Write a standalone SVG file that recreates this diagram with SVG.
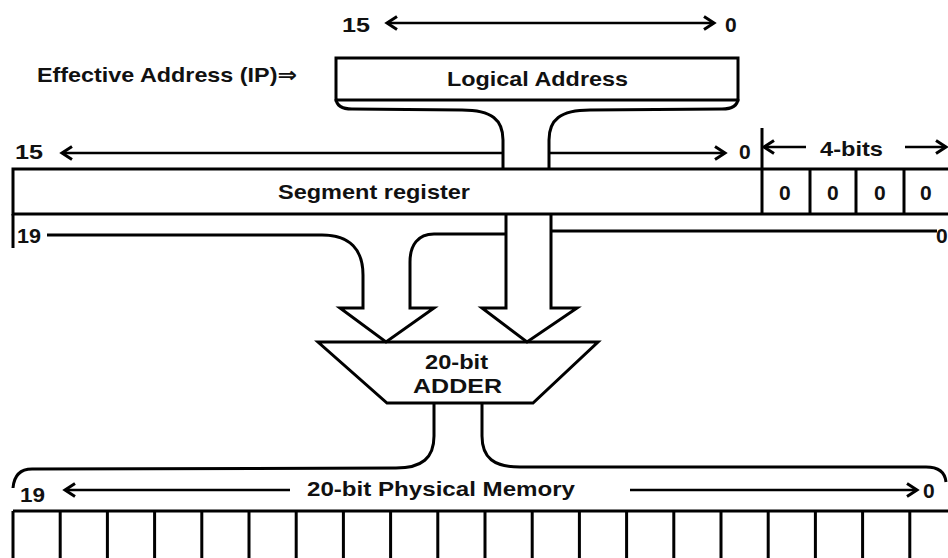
<svg xmlns="http://www.w3.org/2000/svg" width="948" height="558" viewBox="0 0 948 558">
<defs>
<marker id="ah" markerUnits="userSpaceOnUse" markerWidth="16" markerHeight="16" viewBox="0 0 16 16" refX="13" refY="8" orient="auto-start-reverse">
<path d="M3,1.5 L13,8 L3,14.5" fill="none" stroke="#000" stroke-width="3" stroke-linejoin="miter"/>
</marker>
<style>
text{font-family:"Liberation Sans",Arial,"DejaVu Sans",sans-serif;font-weight:bold;font-size:21px;fill:#111;}
.b{fill:#fff;stroke:#000;stroke-width:3;}
.l{fill:none;stroke:#000;stroke-width:3;}
.a{fill:none;stroke:#000;stroke-width:2.6;}
</style>
</defs>
<rect width="948" height="558" fill="#fff"/>

<g id="logical-address">
<text x="342" y="32" textLength="28" lengthAdjust="spacingAndGlyphs">15</text>
<text x="725" y="32">0</text>
<text x="37" y="82" textLength="260" lengthAdjust="spacingAndGlyphs">Effective Address (IP)⇒</text>
<rect class="b" x="336" y="58" width="402" height="42"/>
<text x="447" y="86" textLength="181" lengthAdjust="spacingAndGlyphs">Logical Address</text>
</g>

<g id="segment-register">
<rect class="b" x="13" y="169" width="945" height="45"/>
<line class="l" x1="762" y1="128" x2="762" y2="214"/>
<line class="l" x1="810" y1="169" x2="810" y2="214"/>
<line class="l" x1="856" y1="169" x2="856" y2="214"/>
<line class="l" x1="904" y1="169" x2="904" y2="214"/>
<text x="278" y="199" textLength="192" lengthAdjust="spacingAndGlyphs">Segment register</text>
<text x="779" y="200">0</text>
<text x="827" y="200">0</text>
<text x="874" y="200">0</text>
<text x="920" y="200">0</text>
<text x="15" y="159" textLength="28" lengthAdjust="spacingAndGlyphs">15</text>
<text x="739" y="159">0</text>
<text x="820" y="156" textLength="63" lengthAdjust="spacingAndGlyphs">4-bits</text>
<line class="l" x1="13" y1="214" x2="13" y2="248"/>
<text x="17" y="243" textLength="24" lengthAdjust="spacingAndGlyphs">19</text>
<text x="936" y="243">0</text>
</g>

<g id="adder">
<path class="b" d="M318,342 L598,342 L533,403 L387,403 Z"/>
<text x="425" y="369" textLength="63" lengthAdjust="spacingAndGlyphs">20-bit</text>
<text x="413" y="393" textLength="89" lengthAdjust="spacingAndGlyphs">ADDER</text>
</g>

<g id="physical-memory">
<text x="20" y="502" textLength="25" lengthAdjust="spacingAndGlyphs">19</text>
<text x="307" y="496" textLength="268" lengthAdjust="spacingAndGlyphs">20-bit Physical Memory</text>
<text x="923" y="498">0</text>
<line class="l" x1="13" y1="511" x2="948" y2="511"/>
<path class="l" d="M13,511 V558 M60.2,511 V558 M107.4,511 V558 M154.6,511 V558 M201.8,511 V558 M249,511 V558 M296.2,511 V558 M343.4,511 V558 M390.6,511 V558 M437.8,511 V558 M485,511 V558 M532.2,511 V558 M579.4,511 V558 M626.6,511 V558 M673.8,511 V558 M721,511 V558 M768.2,511 V558 M815.4,511 V558 M862.6,511 V558 M909.8,511 V558"/>
</g>

<g id="connectors">
<line class="a" x1="387" y1="23" x2="714" y2="23" marker-start="url(#ah)" marker-end="url(#ah)"/>
<line class="a" x1="62" y1="153" x2="503" y2="153" marker-start="url(#ah)"/>
<line class="a" x1="549" y1="153" x2="725" y2="153" marker-end="url(#ah)"/>
<line class="a" x1="764" y1="147" x2="806" y2="147" marker-start="url(#ah)"/>
<line class="a" x1="905" y1="147" x2="946" y2="147" marker-end="url(#ah)"/>
<line class="a" x1="65" y1="490" x2="290" y2="490" marker-start="url(#ah)"/>
<line class="a" x1="630" y1="490" x2="917" y2="490" marker-end="url(#ah)"/>
<path class="l" d="M336,99 Q337,109 352,109 L462,110 C492,110 503,120 503,140 V169"/>
<path class="l" d="M738,99 Q737,109 722,109 L590,110 C560,110 549,120 549,140 V169"/>
<path class="l" d="M47,235 H322 C350,235 363,250 363,275 V308 H340 L386,342 L434,308 H410 V262 C410,245 418,234 434,234 H506"/>
<path class="l" d="M506,214 V308 H482 L527,342 L577,308 H551 V214"/>
<line class="l" x1="551" y1="231" x2="937" y2="231"/>
<path class="l" d="M434,403 V436 C434,458 422,468 396,468 L32,469 C20,469 14,476 13,488"/>
<path class="l" d="M482,403 V436 C482,458 494,467 520,467 L926,467 C938,467 945,472 946,482"/>
</g>
</svg>
